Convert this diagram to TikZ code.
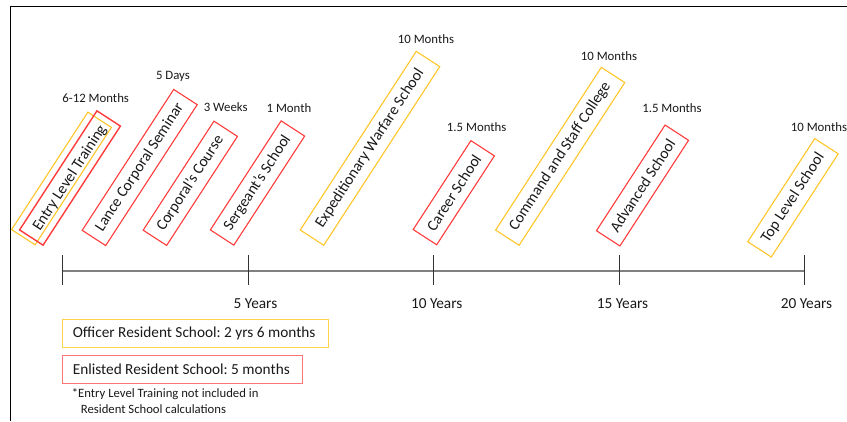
\documentclass[tikz,border=0pt]{standalone}
\usepackage{fontspec}
\setmainfont{Carlito}
\usepackage{tikz}
\usetikzlibrary{calc}
\definecolor{officerY}{HTML}{FFC629}
\definecolor{enlistedR}{HTML}{FF3B3B}
\definecolor{legendR}{HTML}{FF7474}
\definecolor{legendY}{HTML}{FFD24D}
\colorlet{inkD}{black!90}
\tikzstyle{school}=[rotate=57, inner sep=0pt, minimum height=28pt, line width=1.1pt, text=inkD, font=\fontsize{15.5}{18}\selectfont]
\tikzstyle{officer}=[school, draw=officerY]
\tikzstyle{enlisted}=[school, draw=enlistedR]
\tikzstyle{duration}=[text=inkD, font=\fontsize{12.8}{15}\selectfont]
\tikzstyle{years}=[text=inkD, font=\fontsize{15.3}{18}\selectfont]
\tikzstyle{legend}=[anchor=west, inner xsep=10pt, minimum height=28pt, line width=1.1pt, text=inkD, font=\fontsize{15.3}{18}\selectfont]

\begin{document}
\begin{tikzpicture}[x=1pt, y=-1pt]
				\useasboundingbox (0,0) rectangle (847,421);
				\draw[black, line width=0.9pt] (847,6) -- (10,6) -- (10,421);

				% schools
				\node[officer, minimum width=140pt] (entryO) at (61.5,178.5) {};
				\node[enlisted, minimum width=142pt, line width=1.4pt] (entry) at (70,178) {Entry Level Training};
				\node[enlisted, minimum width=168pt] (lance) at (139.7,167.5) {Lance Corporal Seminar};
				\node[enlisted, minimum width=130pt] (cpl) at (190.3,183.3) {Corporal's Course};
				\node[enlisted, minimum width=130pt] (sgt) at (257.5,183) {Sergeant's School};
				\node[officer, minimum width=213pt] (ews) at (370,148.3) {Expeditionary Warfare School};
				\node[enlisted, minimum width=106pt] (career) at (453.8,192.7) {Career School};
				\node[officer, minimum width=194pt] (csc) at (560.2,156.3) {Command and Staff College};
				\node[enlisted, minimum width=126pt] (adv) at (642.5,185.5) {Advanced School};
				\node[officer, minimum width=123pt] (top) at (793,197.8) {Top Level School};

				% durations
				\node[duration] (dEntry) at (95.7,97.7) {6-12 Months};
				\node[duration] (dLance) at (173,76.7) {5 Days};
				\node[duration] (dCpl) at (225.7,107.3) {3 Weeks};
				\node[duration] (dSgt) at (289,108) {1 Month};
				\node[duration] (dEws) at (426,39) {10 Months};
				\node[duration] (dCareer) at (476.7,127.3) {1.5 Months};
				\node[duration] (dCsc) at (609,56) {10 Months};
				\node[duration] (dAdv) at (672,108.3) {1.5 Months};
				\node[duration] (dTop) at (819,127.3) {10 Months};

				% timeline
				\foreach \x [count=\i from 0] in {62,248,433,619,804}
					\coordinate (t\i) at (\x,271);
				\draw[black!50, line width=1.5pt] (t0) -- (t4);
				\foreach \i in {0,...,4}
					\draw[black!80, line width=1pt] ([yshift=16pt]t\i) -- ([yshift=-14pt]t\i);
				\node[years] (y5) at (255.5,304) {5 Years};
				\node[years] (y10) at (436.7,304) {10 Years};
				\node[years] (y15) at (622.5,304) {15 Years};
				\node[years] (y20) at (806.5,304) {20 Years};

				% legend
				\node[legend, draw=legendY] (legO) at (62.3,333.3) {\makebox[246pt][l]{Officer Resident School:~2 yrs 6 months}};
				\node[legend, draw=legendR] (legE) at (62.3,369.3) {\makebox[220pt][l]{Enlisted Resident School:~5 months}};
				\node[anchor=north west, inner sep=0pt, align=left, text=inkD, font=\fontsize{12.7}{15.5}\selectfont] (note) at (71.7,388.5) {*Entry Level Training not included in\\\hspace*{9pt}Resident School calculations};
			\end{tikzpicture}
\end{document}
